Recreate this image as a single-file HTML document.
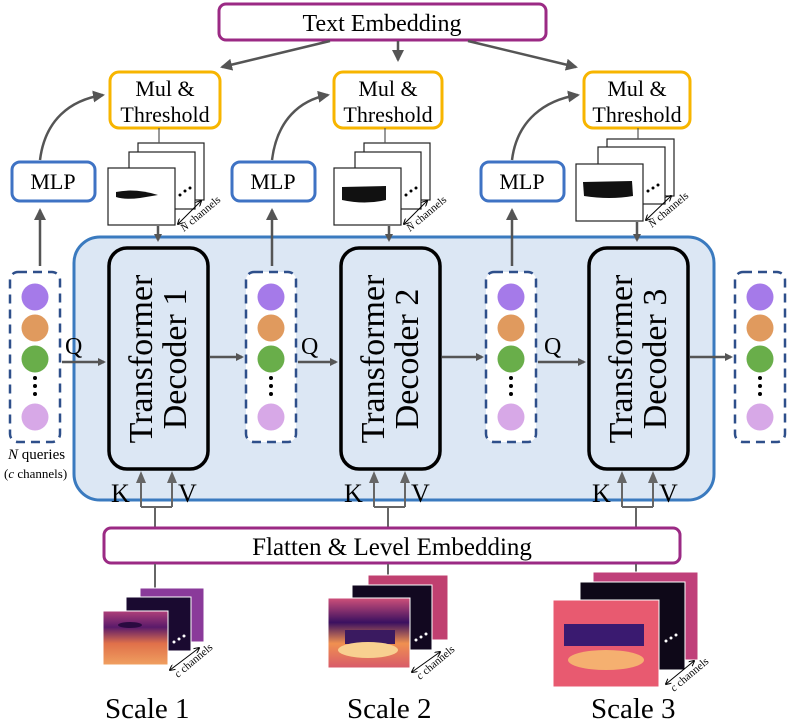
<!DOCTYPE html>
<html><head><meta charset="utf-8"><style>
html,body{margin:0;padding:0;background:#fff;width:788px;height:724px;overflow:hidden}
svg{display:block;font-family:"Liberation Serif","DejaVu Serif",serif}
svg text{font-family:"Liberation Serif","DejaVu Serif",serif;fill:#000}
</style></head><body>
<svg width="788" height="724" viewBox="0 0 788 724" xmlns="http://www.w3.org/2000/svg" font-family="Liberation Serif, DejaVu Serif, serif">
<defs>
<marker id="ah" markerWidth="8" markerHeight="8" refX="6" refY="4" orient="auto" markerUnits="userSpaceOnUse"><path d="M0,0 L8,4 L0,8 z" fill="#555"/></marker>
<marker id="ah2" markerWidth="12" markerHeight="12" refX="10" refY="6" orient="auto" markerUnits="userSpaceOnUse"><path d="M0,0 L12,6 L0,12 z" fill="#555"/></marker>
<marker id="sa" markerWidth="6" markerHeight="6" refX="5" refY="3" orient="auto-start-reverse" markerUnits="userSpaceOnUse"><path d="M0,0 L6,3 L0,6" fill="none" stroke="#000" stroke-width="1"/></marker>
<linearGradient id="th1" x1="0" y1="0" x2="0" y2="1"><stop offset="0" stop-color="#b0407a"/><stop offset="0.3" stop-color="#5a1a6a"/><stop offset="0.6" stop-color="#e0704a"/><stop offset="1" stop-color="#f0a060"/></linearGradient>
<linearGradient id="th2" x1="0" y1="0" x2="0" y2="1"><stop offset="0" stop-color="#d0507a"/><stop offset="0.35" stop-color="#3a1060"/><stop offset="0.65" stop-color="#f09050"/><stop offset="1" stop-color="#d85a6a"/></linearGradient>
</defs>

<rect x="219" y="4" width="327" height="36" rx="7" fill="#fff" stroke="#9b2a84" stroke-width="3"/>
<text x="382" y="31" font-size="24" text-anchor="middle" font-family="Liberation Serif, serif">Text Embedding</text>
<path d="M330,41 L222,67" stroke="#555" stroke-width="2.5" fill="none" marker-end="url(#ah2)"/>
<path d="M398,41 L398,60" stroke="#555" stroke-width="2.5" fill="none" marker-end="url(#ah2)"/>
<path d="M468,41 L576,67" stroke="#555" stroke-width="2.5" fill="none" marker-end="url(#ah2)"/>

<rect x="74" y="237" width="640" height="263" rx="26" fill="#dce7f4" stroke="#3a7abf" stroke-width="3"/>

<g stroke="#f7b500" stroke-width="3" fill="#fff">
<rect x="110" y="72" width="110" height="56" rx="9"/>
<rect x="334" y="72" width="108" height="56" rx="9"/>
<rect x="584" y="72" width="106" height="56" rx="9"/>
</g>
<g font-size="22" text-anchor="middle" font-family="Liberation Serif, serif">
<text x="165" y="96">Mul &amp;</text><text x="165" y="122">Threshold</text>
<text x="388" y="96">Mul &amp;</text><text x="388" y="122">Threshold</text>
<text x="637" y="96">Mul &amp;</text><text x="637" y="122">Threshold</text>
</g>

<g stroke="#3f73c4" stroke-width="3" fill="#fff">
<rect x="12" y="162" width="83" height="39" rx="8"/>
<rect x="232" y="162" width="83" height="39" rx="8"/>
<rect x="481" y="162" width="83" height="39" rx="8"/>
</g>
<g font-size="22" text-anchor="middle" font-family="Liberation Serif, serif">
<text x="53" y="189">MLP</text><text x="273" y="189">MLP</text><text x="522" y="189">MLP</text>
</g>
<g stroke="#555" stroke-width="2.5" fill="none">
<path d="M40,160 C45,120 70,100 103,95" marker-end="url(#ah2)"/>
<path d="M272,160 C277,120 300,100 328,95" marker-end="url(#ah2)"/>
<path d="M512,160 C517,120 545,100 578,95" marker-end="url(#ah2)"/>
<path d="M40,266 L40,210" marker-end="url(#ah2)"/>
<path d="M272,266 L272,210" marker-end="url(#ah2)"/>
<path d="M512,266 L512,210" marker-end="url(#ah2)"/>
</g>

<g stroke="#222" stroke-width="1.2" fill="#fff">
<rect x="138" y="143" width="66" height="57"/><rect x="129" y="152" width="66" height="57"/><rect x="108" y="168" width="67" height="57"/>
<rect x="364" y="143" width="66" height="57"/><rect x="355" y="152" width="66" height="57"/><rect x="334" y="168" width="67" height="57"/>
<rect x="607" y="139" width="67" height="57"/><rect x="598" y="147" width="67" height="57"/><rect x="576" y="164" width="67" height="57"/>
</g>
<g stroke="#555" stroke-width="1.2"><line x1="159" y1="128" x2="159" y2="143"/><line x1="385" y1="128" x2="385" y2="143"/><line x1="638" y1="128" x2="638" y2="139"/></g>
<path d="M116,192 Q135,188 158,195 L140,198 Q125,200 116,197z" fill="#111"/>
<path d="M342,187 L386,186 L386,200 Q365,205 342,200z" fill="#111"/>
<path d="M583,182 L632,181 L633,196 Q610,200 584,196z" fill="#111"/>
<g fill="#000"><circle cx="180" cy="195" r="1.5"/><circle cx="185" cy="191" r="1.5"/><circle cx="190" cy="188" r="1.5"/>
<circle cx="406" cy="195" r="1.5"/><circle cx="411" cy="191" r="1.5"/><circle cx="416" cy="188" r="1.5"/>
<circle cx="648" cy="191" r="1.5"/><circle cx="653" cy="188" r="1.5"/><circle cx="658" cy="185" r="1.5"/></g>
<g stroke="#000" stroke-width="1" marker-start="url(#sa)" marker-end="url(#sa)">
<line x1="178" y1="224" x2="201" y2="201"/><line x1="404" y1="224" x2="427" y2="201"/><line x1="646" y1="220" x2="671" y2="196"/>
</g>
<g font-size="11" font-family="Liberation Serif, serif"><text transform="translate(184,232) rotate(-40)"><tspan font-style="italic">N</tspan> channels</text>
<text transform="translate(410,232) rotate(-40)"><tspan font-style="italic">N</tspan> channels</text>
<text transform="translate(652,228) rotate(-40)"><tspan font-style="italic">N</tspan> channels</text></g>
<g stroke="#555" stroke-width="2.5"><line x1="158" y1="226" x2="158" y2="240" marker-end="url(#ah)"/><line x1="389" y1="226" x2="389" y2="240" marker-end="url(#ah)"/><line x1="637" y1="222" x2="637" y2="240" marker-end="url(#ah)"/></g>

<g stroke="#000" stroke-width="3.5" fill="#dce7f4">
<rect x="109" y="248" width="99" height="221" rx="18"/>
<rect x="341" y="248" width="99" height="221" rx="18"/>
<rect x="589" y="248" width="99" height="221" rx="18"/>
</g>
<g font-size="34" text-anchor="middle" font-family="Liberation Serif, serif">
<text transform="translate(157,359) rotate(-90)"><tspan x="0" y="-5">Transformer</tspan><tspan x="0" y="29">Decoder 1</tspan></text>
<text transform="translate(389,359) rotate(-90)"><tspan x="0" y="-5">Transformer</tspan><tspan x="0" y="29">Decoder 2</tspan></text>
<text transform="translate(637,359) rotate(-90)"><tspan x="0" y="-5">Transformer</tspan><tspan x="0" y="29">Decoder 3</tspan></text>
</g>

<g stroke="#2e4f8a" stroke-width="2.5" stroke-dasharray="9,6" fill="#fff">
<rect x="10" y="272" width="50" height="170" rx="8"/>
<rect x="246" y="272" width="50" height="170" rx="8"/>
<rect x="486" y="272" width="50" height="170" rx="8"/>
<rect x="735" y="272" width="50" height="170" rx="8"/>
</g>
<g>
<g transform="translate(35,0)"><circle cy="297" r="13.5" fill="#a57ae9"/><circle cy="328" r="13.5" fill="#e09a5e"/><circle cy="359" r="13.5" fill="#69ae4a"/><circle cy="378" r="2" fill="#000"/><circle cy="386" r="2" fill="#000"/><circle cy="394" r="2" fill="#000"/><circle cy="417" r="13.5" fill="#d7a8e7"/></g>
<g transform="translate(271,0)"><circle cy="297" r="13.5" fill="#a57ae9"/><circle cy="328" r="13.5" fill="#e09a5e"/><circle cy="359" r="13.5" fill="#69ae4a"/><circle cy="378" r="2" fill="#000"/><circle cy="386" r="2" fill="#000"/><circle cy="394" r="2" fill="#000"/><circle cy="417" r="13.5" fill="#d7a8e7"/></g>
<g transform="translate(511,0)"><circle cy="297" r="13.5" fill="#a57ae9"/><circle cy="328" r="13.5" fill="#e09a5e"/><circle cy="359" r="13.5" fill="#69ae4a"/><circle cy="378" r="2" fill="#000"/><circle cy="386" r="2" fill="#000"/><circle cy="394" r="2" fill="#000"/><circle cy="417" r="13.5" fill="#d7a8e7"/></g>
<g transform="translate(760,0)"><circle cy="297" r="13.5" fill="#a57ae9"/><circle cy="328" r="13.5" fill="#e09a5e"/><circle cy="359" r="13.5" fill="#69ae4a"/><circle cy="378" r="2" fill="#000"/><circle cy="386" r="2" fill="#000"/><circle cy="394" r="2" fill="#000"/><circle cy="417" r="13.5" fill="#d7a8e7"/></g>
</g>
<g stroke="#555" stroke-width="2.5">
<line x1="62" y1="362" x2="104" y2="362" marker-end="url(#ah)"/>
<line x1="210" y1="357" x2="242" y2="357" marker-end="url(#ah)"/>
<line x1="298" y1="362" x2="336" y2="362" marker-end="url(#ah)"/>
<line x1="442" y1="357" x2="482" y2="357" marker-end="url(#ah)"/>
<line x1="538" y1="362" x2="584" y2="362" marker-end="url(#ah)"/>
<line x1="690" y1="357" x2="731" y2="357" marker-end="url(#ah)"/>
</g>
<g font-size="24" font-family="Liberation Serif, serif"><text x="65" y="354">Q</text><text x="301" y="354">Q</text><text x="544" y="354">Q</text></g>

<text x="8" y="459" font-size="15" font-family="Liberation Serif, serif"><tspan font-style="italic">N</tspan> queries</text>
<text x="4" y="478" font-size="13" font-family="Liberation Serif, serif">(<tspan font-style="italic">c</tspan> channels)</text>

<g stroke="#666" stroke-width="2" fill="none">
<path d="M155,528 L155,507 M141,507 L172,507 M141,507 L141,478 M172,507 L172,478"/>
<path d="M388,528 L388,507 M374,507 L405,507 M374,507 L374,478 M405,507 L405,478"/>
<path d="M636,528 L636,507 M622,507 L653,507 M622,507 L622,478 M653,507 L653,478"/>
</g>
<g fill="#666"><path d="M136,483 L141,471 L146,483z"/><path d="M167,483 L172,471 L177,483z"/>
<path d="M369,483 L374,471 L379,483z"/><path d="M400,483 L405,471 L410,483z"/>
<path d="M617,483 L622,471 L627,483z"/><path d="M648,483 L653,471 L658,483z"/></g>
<g font-size="26" font-family="Liberation Serif, serif"><text x="111" y="502">K</text><text x="178" y="502">V</text>
<text x="344" y="502">K</text><text x="411" y="502">V</text>
<text x="592" y="502">K</text><text x="659" y="502">V</text></g>

<rect x="104" y="528" width="576" height="35" rx="7" fill="#fff" stroke="#9b2a84" stroke-width="3"/>
<text x="392" y="555" font-size="25" text-anchor="middle" font-family="Liberation Serif, serif">Flatten &amp; Level Embedding</text>
<g stroke="#666" stroke-width="2"><line x1="155" y1="564" x2="155" y2="588"/><line x1="388" y1="564" x2="388" y2="575"/><line x1="636" y1="564" x2="636" y2="572"/></g>

<g stroke="#fff" stroke-width="1">
<rect x="140" y="588" width="64" height="54" fill="#8a3a9a"/>
<rect x="126" y="597" width="65" height="54" fill="#1a0a30"/>
<rect x="103" y="611" width="65" height="54" fill="url(#th1)"/>
<rect x="368" y="575" width="80" height="65" fill="#c04070"/>
<rect x="352" y="585" width="80" height="65" fill="#120820"/>
<rect x="328" y="598" width="82" height="70" fill="url(#th2)"/>
<rect x="593" y="572" width="105" height="88" fill="#c0407a"/>
<rect x="580" y="582" width="105" height="88" fill="#0e0818"/>
<rect x="553" y="600" width="106" height="87" fill="#e85a70"/>
</g>
<rect x="564" y="624" width="80" height="22" fill="#3a1a70"/>
<ellipse cx="606" cy="660" rx="38" ry="10" fill="#f5b070"/>
<rect x="345" y="630" width="50" height="14" fill="#3a1a60"/>
<ellipse cx="368" cy="650" rx="30" ry="8" fill="#f8d090"/>
<ellipse cx="130" cy="625" rx="12" ry="3" fill="#2a0a40"/>
<g fill="#fff"><circle cx="174" cy="642" r="1.5"/><circle cx="179" cy="639" r="1.5"/><circle cx="184" cy="636" r="1.5"/>
<circle cx="416" cy="640" r="1.5"/><circle cx="421" cy="637" r="1.5"/><circle cx="426" cy="634" r="1.5"/>
<circle cx="666" cy="641" r="1.5"/><circle cx="671" cy="638" r="1.5"/><circle cx="676" cy="635" r="1.5"/></g>
<g stroke="#000" stroke-width="1" marker-start="url(#sa)" marker-end="url(#sa)">
<line x1="170" y1="670" x2="199" y2="648"/><line x1="412" y1="672" x2="440" y2="652"/><line x1="666" y1="684" x2="694" y2="661"/>
</g>
<g font-size="11" font-family="Liberation Serif, serif"><text transform="translate(178,678) rotate(-40)"><tspan font-style="italic">c</tspan> channels</text>
<text transform="translate(420,680) rotate(-40)"><tspan font-style="italic">c</tspan> channels</text>
<text transform="translate(674,692) rotate(-40)"><tspan font-style="italic">c</tspan> channels</text></g>

<g font-size="29" font-family="Liberation Serif, serif"><text x="105" y="718">Scale 1</text><text x="347" y="718">Scale 2</text><text x="591" y="718">Scale 3</text></g>
</svg>
</body></html>
